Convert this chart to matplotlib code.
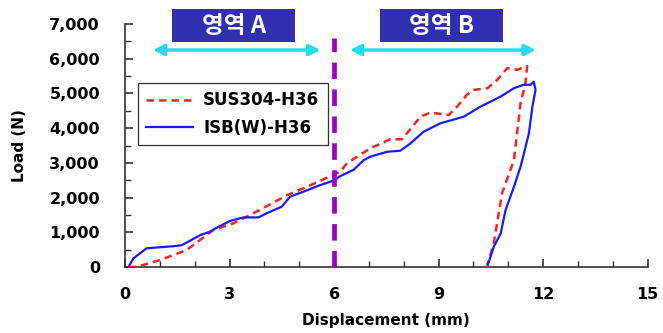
import matplotlib
matplotlib.use("Agg")
import matplotlib.pyplot as plt
from matplotlib.patches import Rectangle, FancyArrowPatch
from matplotlib.ticker import MultipleLocator, FuncFormatter

# ---- data ----
sus_x = [0.10, 0.34, 1.00, 1.77, 2.54, 3.11, 3.69, 4.65, 5.22, 6.18, 6.37, 7.04, 7.61, 7.95,
         8.48, 8.76, 9.29, 9.53, 9.81, 10.00, 10.40, 10.68, 10.97, 11.25, 11.54, 11.49,
         11.35, 11.16, 11.06, 10.82, 10.58, 10.44, 10.40]
sus_y = [0, 10, 200, 490, 1070, 1260, 1550, 2070, 2310, 2750, 2990, 3420, 3680, 3680,
         4330, 4450, 4380, 4620, 4960, 5100, 5150, 5390, 5730, 5680, 5790, 5290,
         4720, 3080, 2800, 2120, 680, 200, 0]

isb_x = [0.10, 0.24, 0.62, 1.00, 1.39, 1.63, 2.16, 2.44, 2.68, 3.02, 3.40, 3.83, 4.07, 4.50,
         4.74, 5.12, 5.60, 5.99, 6.18, 6.56, 6.85, 7.04, 7.52, 7.90, 8.19, 8.57, 9.05,
         9.72, 10.20, 10.78, 11.16, 11.44, 11.64, 11.73, 11.78, 11.69, 11.59, 11.40,
         11.35, 11.16, 10.92, 10.78, 10.58, 10.44, 10.40]
isb_y = [0, 250, 540, 570, 600, 630, 920, 1020, 1160, 1330, 1430, 1430, 1550, 1740,
         2030, 2170, 2360, 2490, 2620, 2800, 3080, 3180, 3320, 3350, 3560, 3900, 4140,
         4330, 4620, 4910, 5150, 5250, 5250, 5340, 5100, 4620, 3850, 3080,
         2890, 2310, 1640, 970, 580, 150, 90]

series_labels = ["SUS304-H36", "ISB(W)-H36"]
region_labels = ["영역 A", "영역 B"]
boundary_x = 6
region_a = (0.72, 5.69)
region_b = (6.37, 11.87)
x_label = "Displacement (mm)"
y_label = "Load (N)"

plt.rcParams['font.family'] = ['DejaVu Sans']

fig = plt.figure(figsize=(6.63, 3.33), dpi=100)
ax = fig.add_axes([0.1885, 0.198, 0.7885, 0.73])

ax.plot(sus_x, sus_y, color="#FF2020", lw=1.8, dashes=(3, 2), label=series_labels[0], zorder=3)
ax.plot(isb_x, isb_y, color="#1a1aFF", lw=1.6, label=series_labels[1], zorder=3)

ax.set_xlim(0, 15)
ax.set_ylim(0, 7000)
ax.xaxis.set_major_locator(MultipleLocator(3))
ax.xaxis.set_minor_locator(MultipleLocator(1))
ax.yaxis.set_major_locator(MultipleLocator(1000))
ax.yaxis.set_minor_locator(MultipleLocator(500))
ax.yaxis.set_major_formatter(FuncFormatter(lambda v, p: f"{int(v):,}"))

for s in ["top", "right"]:
    ax.spines[s].set_visible(False)
for s in ["left", "bottom"]:
    ax.spines[s].set_color("#333333")
    ax.spines[s].set_linewidth(1.2)

ax.tick_params(axis="both", which="major", direction="in", length=6, width=1.2,
               color="#333333", labelsize=11.5)
ax.tick_params(axis="both", which="minor", direction="in", length=4, width=1.0, color="#333333")
ax.tick_params(axis="x", which="major", pad=14)
ax.tick_params(axis="y", which="major", pad=18)
for lab in ax.get_xticklabels() + ax.get_yticklabels():
    lab.set_fontweight("bold")

ax.set_xlabel(x_label, fontsize=11, fontweight="bold", labelpad=8)
ax.set_ylabel(y_label, fontsize=11, fontweight="bold", labelpad=16)

# boundary line
ax.plot([boundary_x, boundary_x], [0, 6600], color="#9900CC", lw=3.4, dashes=(3.5, 2.2),
        zorder=4, clip_on=False)

# arrows
for (x0, x1) in [region_a, region_b]:
    arr = FancyArrowPatch((x0, 6250), (x1, 6250), arrowstyle="<|-|>", mutation_scale=16,
                          color="#22DDEE", lw=2.5, clip_on=False, zorder=4)
    ax.add_patch(arr)

# region boxes
for (x0, x1), txt in zip([(1.35, 4.89), (7.33, 10.86)], region_labels):
    rect = Rectangle((x0, 6480), x1 - x0, 950, facecolor="#2F2FB0", edgecolor="none",
                     clip_on=False, zorder=5)
    ax.add_patch(rect)
    ax.text((x0 + x1) / 2, 6480 + 475, txt, color="white", fontsize=17, fontweight="bold",
            ha="center", va="center", family=["Noto Sans CJK KR", "DejaVu Sans"],
            zorder=6, clip_on=False)

leg = ax.legend(loc="upper left", bbox_to_anchor=(0.025, 0.757), frameon=True, fancybox=False,
                edgecolor="#333333", framealpha=1, handlelength=2.8, borderpad=0.5,
                labelspacing=0.55, handletextpad=0.6, borderaxespad=0,
                prop={"weight": "bold", "size": 12})
leg.get_frame().set_linewidth(0.9)

fig.savefig("out.png", dpi=100)
